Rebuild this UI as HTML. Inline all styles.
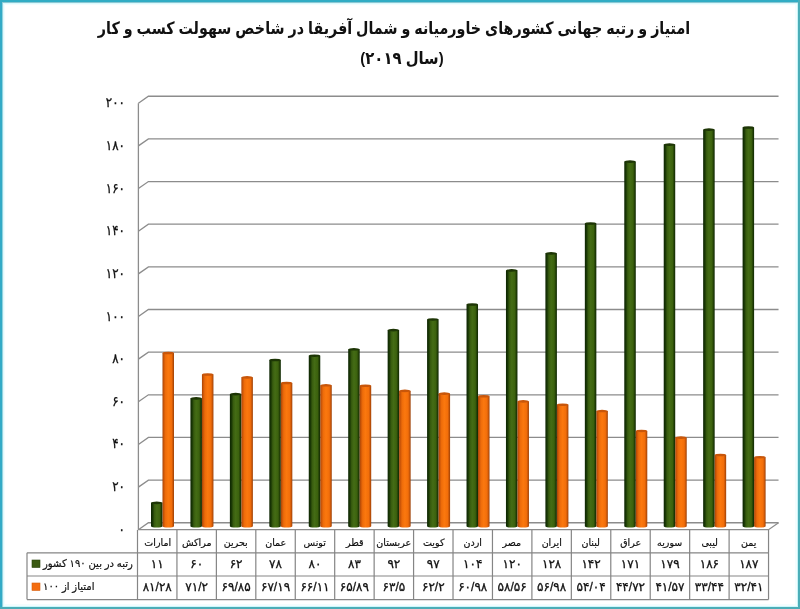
<!DOCTYPE html>
<html lang="fa">
<head>
<meta charset="utf-8">
<title>امتیاز و رتبه جهانی کشورهای خاورمیانه و شمال آفریقا در شاخص سهولت کسب و کار</title>
<style>
html,body{margin:0;padding:0;background:#fff;}
body{width:800px;height:609px;overflow:hidden;position:relative;font-family:"Liberation Sans","DejaVu Sans",sans-serif;color:#111;}
.t{position:absolute;white-space:nowrap;line-height:1;direction:rtl;text-align:center;}
.title{font-weight:bold;font-size:17px;left:0;width:800px;transform:scaleX(0.84);transform-origin:50% 50%;}
.yl{-webkit-text-stroke:0.3px #111;font-size:13.5px;width:40px;text-align:right;direction:ltr;transform:scaleX(0.88);transform-origin:100% 50%;}
.cat{-webkit-text-stroke:0.2px #111;font-size:10px;transform:scaleX(0.95);}
.num{-webkit-text-stroke:0.3px #111;font-size:12px;direction:ltr;transform:scaleX(1.0);}
.leg{-webkit-text-stroke:0.2px #111;font-size:10.5px;text-align:left;transform:scaleX(0.955);transform-origin:0 50%;}

</style>
</head>
<body>
<svg width="800" height="609" viewBox="0 0 800 609" style="position:absolute;left:0;top:0">
<defs>
<linearGradient id="gg" x1="0" x2="1" y1="0" y2="0"><stop offset="0" stop-color="#0c2402"/><stop offset="0.15" stop-color="#1a3805"/><stop offset="0.3" stop-color="#385c0f"/><stop offset="0.5" stop-color="#446c15"/><stop offset="0.76" stop-color="#3c620e"/><stop offset="0.89" stop-color="#234006"/><stop offset="1" stop-color="#0d2602"/></linearGradient>
<linearGradient id="go" x1="0" x2="1" y1="0" y2="0"><stop offset="0" stop-color="#a04206"/><stop offset="0.1" stop-color="#c85408"/><stop offset="0.26" stop-color="#ee6c0a"/><stop offset="0.5" stop-color="#fb780e"/><stop offset="0.78" stop-color="#f26e0a"/><stop offset="0.9" stop-color="#c85608"/><stop offset="1" stop-color="#9a3e05"/></linearGradient>
</defs>
<g shape-rendering="crispEdges">
<rect x="0" y="0" width="800" height="609" fill="#fff"/>
<rect x="3" y="3" width="794" height="603" fill="none" stroke="#f3fdfe" stroke-width="4"/>
<rect x="3" y="0" width="1" height="609" fill="#e0f8fc"/><rect x="0" y="3" width="800" height="1" fill="#dcfbfe"/>
<rect x="797" y="0" width="1" height="609" fill="#c8f2f6"/><rect x="0" y="606" width="800" height="1" fill="#ccf8fc"/>
<rect x="2" y="0" width="1" height="609" fill="#92d2de"/><rect x="0" y="2" width="800" height="1" fill="#8cc8d4"/>
<rect x="0" y="0" width="2" height="609" fill="#32aac6"/><rect x="0" y="0" width="800" height="2" fill="#30acc4"/>
<rect x="798" y="0" width="2" height="609" fill="#4aaeb8"/><rect x="0" y="607" width="800" height="2" fill="#4cacb6"/>
</g>
<path d="M138.40 529.75L148.40 522.75H778.54M138.40 487.10L148.40 480.10H778.54M138.40 444.45L148.40 437.45H778.54M138.40 401.80L148.40 394.80H778.54M138.40 359.15L148.40 352.15H778.54M138.40 316.50L148.40 309.50H778.54M138.40 273.85L148.40 266.85H778.54M138.40 231.20L148.40 224.20H778.54M138.40 188.55L148.40 181.55H778.54M138.40 145.90L148.40 138.90H778.54M138.40 103.25L148.40 96.25H778.54" fill="none" stroke="#8c8c8c" stroke-width="1.3"/>
<path d="M138.40 103.25V530.00" fill="none" stroke="#8c8c8c" stroke-width="1.3"/>
<path d="M138.40 529.70H768.54L778.54 522.75" fill="none" stroke="#8c8c8c" stroke-width="1.3"/>
<path d="M151.00 502.84V526.30A5.75 1.3 0 0 0 162.50 526.30V502.84Z" fill="url(#gg)"/>
<ellipse cx="156.75" cy="502.84" rx="5.75" ry="1.3" fill="#1d3505"/>
<path d="M162.50 352.97V526.30A5.75 1.3 0 0 0 174.00 526.30V352.97Z" fill="url(#go)"/>
<ellipse cx="168.25" cy="352.97" rx="5.75" ry="1.3" fill="#c8560a"/>
<path d="M190.44 398.35V526.30A5.75 1.3 0 0 0 201.94 526.30V398.35Z" fill="url(#gg)"/>
<ellipse cx="196.19" cy="398.35" rx="5.75" ry="1.3" fill="#1d3505"/>
<path d="M201.94 374.47V526.30A5.75 1.3 0 0 0 213.44 526.30V374.47Z" fill="url(#go)"/>
<ellipse cx="207.69" cy="374.47" rx="5.75" ry="1.3" fill="#c8560a"/>
<path d="M229.88 394.08V526.30A5.75 1.3 0 0 0 241.38 526.30V394.08Z" fill="url(#gg)"/>
<ellipse cx="235.63" cy="394.08" rx="5.75" ry="1.3" fill="#1d3505"/>
<path d="M241.38 377.34V526.30A5.75 1.3 0 0 0 252.88 526.30V377.34Z" fill="url(#go)"/>
<ellipse cx="247.13" cy="377.34" rx="5.75" ry="1.3" fill="#c8560a"/>
<path d="M269.32 359.96V526.30A5.75 1.3 0 0 0 280.82 526.30V359.96Z" fill="url(#gg)"/>
<ellipse cx="275.07" cy="359.96" rx="5.75" ry="1.3" fill="#1d3505"/>
<path d="M280.82 383.02V526.30A5.75 1.3 0 0 0 292.32 526.30V383.02Z" fill="url(#go)"/>
<ellipse cx="286.57" cy="383.02" rx="5.75" ry="1.3" fill="#c8560a"/>
<path d="M308.76 355.70V526.30A5.75 1.3 0 0 0 320.26 526.30V355.70Z" fill="url(#gg)"/>
<ellipse cx="314.51" cy="355.70" rx="5.75" ry="1.3" fill="#1d3505"/>
<path d="M320.26 385.32V526.30A5.75 1.3 0 0 0 331.76 526.30V385.32Z" fill="url(#go)"/>
<ellipse cx="326.01" cy="385.32" rx="5.75" ry="1.3" fill="#c8560a"/>
<path d="M348.20 349.30V526.30A5.75 1.3 0 0 0 359.70 526.30V349.30Z" fill="url(#gg)"/>
<ellipse cx="353.95" cy="349.30" rx="5.75" ry="1.3" fill="#1d3505"/>
<path d="M359.70 385.79V526.30A5.75 1.3 0 0 0 371.20 526.30V385.79Z" fill="url(#go)"/>
<ellipse cx="365.45" cy="385.79" rx="5.75" ry="1.3" fill="#c8560a"/>
<path d="M387.64 330.11V526.30A5.75 1.3 0 0 0 399.14 526.30V330.11Z" fill="url(#gg)"/>
<ellipse cx="393.39" cy="330.11" rx="5.75" ry="1.3" fill="#1d3505"/>
<path d="M399.14 390.89V526.30A5.75 1.3 0 0 0 410.64 526.30V390.89Z" fill="url(#go)"/>
<ellipse cx="404.89" cy="390.89" rx="5.75" ry="1.3" fill="#c8560a"/>
<path d="M427.08 319.45V526.30A5.75 1.3 0 0 0 438.58 526.30V319.45Z" fill="url(#gg)"/>
<ellipse cx="432.83" cy="319.45" rx="5.75" ry="1.3" fill="#1d3505"/>
<path d="M438.58 393.66V526.30A5.75 1.3 0 0 0 450.08 526.30V393.66Z" fill="url(#go)"/>
<ellipse cx="444.33" cy="393.66" rx="5.75" ry="1.3" fill="#c8560a"/>
<path d="M466.52 304.52V526.30A5.75 1.3 0 0 0 478.02 526.30V304.52Z" fill="url(#gg)"/>
<ellipse cx="472.27" cy="304.52" rx="5.75" ry="1.3" fill="#1d3505"/>
<path d="M478.02 396.26V526.30A5.75 1.3 0 0 0 489.52 526.30V396.26Z" fill="url(#go)"/>
<ellipse cx="483.77" cy="396.26" rx="5.75" ry="1.3" fill="#c8560a"/>
<path d="M505.96 270.40V526.30A5.75 1.3 0 0 0 517.46 526.30V270.40Z" fill="url(#gg)"/>
<ellipse cx="511.71" cy="270.40" rx="5.75" ry="1.3" fill="#1d3505"/>
<path d="M517.46 401.42V526.30A5.75 1.3 0 0 0 528.96 526.30V401.42Z" fill="url(#go)"/>
<ellipse cx="523.21" cy="401.42" rx="5.75" ry="1.3" fill="#c8560a"/>
<path d="M545.40 253.34V526.30A5.75 1.3 0 0 0 556.90 526.30V253.34Z" fill="url(#gg)"/>
<ellipse cx="551.15" cy="253.34" rx="5.75" ry="1.3" fill="#1d3505"/>
<path d="M556.90 404.79V526.30A5.75 1.3 0 0 0 568.40 526.30V404.79Z" fill="url(#go)"/>
<ellipse cx="562.65" cy="404.79" rx="5.75" ry="1.3" fill="#c8560a"/>
<path d="M584.84 223.48V526.30A5.75 1.3 0 0 0 596.34 526.30V223.48Z" fill="url(#gg)"/>
<ellipse cx="590.59" cy="223.48" rx="5.75" ry="1.3" fill="#1d3505"/>
<path d="M596.34 411.06V526.30A5.75 1.3 0 0 0 607.84 526.30V411.06Z" fill="url(#go)"/>
<ellipse cx="602.09" cy="411.06" rx="5.75" ry="1.3" fill="#c8560a"/>
<path d="M624.28 161.64V526.30A5.75 1.3 0 0 0 635.78 526.30V161.64Z" fill="url(#gg)"/>
<ellipse cx="630.03" cy="161.64" rx="5.75" ry="1.3" fill="#1d3505"/>
<path d="M635.78 430.93V526.30A5.75 1.3 0 0 0 647.28 526.30V430.93Z" fill="url(#go)"/>
<ellipse cx="641.53" cy="430.93" rx="5.75" ry="1.3" fill="#c8560a"/>
<path d="M663.72 144.58V526.30A5.75 1.3 0 0 0 675.22 526.30V144.58Z" fill="url(#gg)"/>
<ellipse cx="669.47" cy="144.58" rx="5.75" ry="1.3" fill="#1d3505"/>
<path d="M675.22 437.65V526.30A5.75 1.3 0 0 0 686.72 526.30V437.65Z" fill="url(#go)"/>
<ellipse cx="680.97" cy="437.65" rx="5.75" ry="1.3" fill="#c8560a"/>
<path d="M703.16 129.65V526.30A5.75 1.3 0 0 0 714.66 526.30V129.65Z" fill="url(#gg)"/>
<ellipse cx="708.91" cy="129.65" rx="5.75" ry="1.3" fill="#1d3505"/>
<path d="M714.66 454.99V526.30A5.75 1.3 0 0 0 726.16 526.30V454.99Z" fill="url(#go)"/>
<ellipse cx="720.41" cy="454.99" rx="5.75" ry="1.3" fill="#c8560a"/>
<path d="M742.60 127.52V526.30A5.75 1.3 0 0 0 754.10 526.30V127.52Z" fill="url(#gg)"/>
<ellipse cx="748.35" cy="127.52" rx="5.75" ry="1.3" fill="#1d3505"/>
<path d="M754.10 457.19V526.30A5.75 1.3 0 0 0 765.60 526.30V457.19Z" fill="url(#go)"/>
<ellipse cx="759.85" cy="457.19" rx="5.75" ry="1.3" fill="#c8560a"/>
<path d="M27.0 552.8H768.54M27.0 576.0H768.54M27.0 599.6H768.54M27.0 552.8V599.6M137.50 530.0V599.6M176.94 530.0V599.6M216.38 530.0V599.6M255.82 530.0V599.6M295.26 530.0V599.6M334.70 530.0V599.6M374.14 530.0V599.6M413.58 530.0V599.6M453.02 530.0V599.6M492.46 530.0V599.6M531.90 530.0V599.6M571.34 530.0V599.6M610.78 530.0V599.6M650.22 530.0V599.6M689.66 530.0V599.6M729.10 530.0V599.6M768.54 530.0V599.6" fill="none" stroke="#858585" stroke-width="1.2"/>
<rect x="32" y="560" width="8" height="7.5" fill="#3b5a12" stroke="#2a430a" stroke-width="0.6"/>
<rect x="32" y="583" width="8" height="7.5" fill="#f46d10" stroke="#d8600e" stroke-width="0.6"/>
</svg>
<div class="t title" style="top:20px;left:-6.5px">امتیاز و رتبه جهانی کشورهای خاورمیانه و شمال آفریقا در شاخص سهولت کسب و کار</div>
<div class="t title" style="top:50px;left:2px;transform:scaleX(0.873)">(سال ۲۰۱۹)</div>
<div class="t yl" style="left:84.5px;top:522.75px">۰</div>
<div class="t yl" style="left:84.5px;top:480.10px">۲۰</div>
<div class="t yl" style="left:84.5px;top:437.45px">۴۰</div>
<div class="t yl" style="left:84.5px;top:394.80px">۶۰</div>
<div class="t yl" style="left:84.5px;top:352.15px">۸۰</div>
<div class="t yl" style="left:84.5px;top:309.50px">۱۰۰</div>
<div class="t yl" style="left:84.5px;top:266.85px">۱۲۰</div>
<div class="t yl" style="left:84.5px;top:224.20px">۱۴۰</div>
<div class="t yl" style="left:84.5px;top:181.55px">۱۶۰</div>
<div class="t yl" style="left:84.5px;top:138.90px">۱۸۰</div>
<div class="t yl" style="left:84.5px;top:96.25px">۲۰۰</div>
<div class="t cat" style="left:137.50px;width:39.44px;top:537.5px">امارات</div>
<div class="t num" style="left:137.50px;width:39.44px;top:558px">۱۱</div>
<div class="t num" style="left:137.50px;width:39.44px;top:581px">۸۱/۲۸</div>
<div class="t cat" style="left:176.94px;width:39.44px;top:537.5px">مراکش</div>
<div class="t num" style="left:176.94px;width:39.44px;top:558px">۶۰</div>
<div class="t num" style="left:176.94px;width:39.44px;top:581px">۷۱/۲</div>
<div class="t cat" style="left:216.38px;width:39.44px;top:537.5px">بحرین</div>
<div class="t num" style="left:216.38px;width:39.44px;top:558px">۶۲</div>
<div class="t num" style="left:216.38px;width:39.44px;top:581px">۶۹/۸۵</div>
<div class="t cat" style="left:255.82px;width:39.44px;top:537.5px">عمان</div>
<div class="t num" style="left:255.82px;width:39.44px;top:558px">۷۸</div>
<div class="t num" style="left:255.82px;width:39.44px;top:581px">۶۷/۱۹</div>
<div class="t cat" style="left:295.26px;width:39.44px;top:537.5px">تونس</div>
<div class="t num" style="left:295.26px;width:39.44px;top:558px">۸۰</div>
<div class="t num" style="left:295.26px;width:39.44px;top:581px">۶۶/۱۱</div>
<div class="t cat" style="left:334.70px;width:39.44px;top:537.5px">قطر</div>
<div class="t num" style="left:334.70px;width:39.44px;top:558px">۸۳</div>
<div class="t num" style="left:334.70px;width:39.44px;top:581px">۶۵/۸۹</div>
<div class="t cat" style="left:374.14px;width:39.44px;top:537.5px">عربستان</div>
<div class="t num" style="left:374.14px;width:39.44px;top:558px">۹۲</div>
<div class="t num" style="left:374.14px;width:39.44px;top:581px">۶۳/۵</div>
<div class="t cat" style="left:413.58px;width:39.44px;top:537.5px">کویت</div>
<div class="t num" style="left:413.58px;width:39.44px;top:558px">۹۷</div>
<div class="t num" style="left:413.58px;width:39.44px;top:581px">۶۲/۲</div>
<div class="t cat" style="left:453.02px;width:39.44px;top:537.5px">اردن</div>
<div class="t num" style="left:453.02px;width:39.44px;top:558px">۱۰۴</div>
<div class="t num" style="left:453.02px;width:39.44px;top:581px">۶۰/۹۸</div>
<div class="t cat" style="left:492.46px;width:39.44px;top:537.5px">مصر</div>
<div class="t num" style="left:492.46px;width:39.44px;top:558px">۱۲۰</div>
<div class="t num" style="left:492.46px;width:39.44px;top:581px">۵۸/۵۶</div>
<div class="t cat" style="left:531.90px;width:39.44px;top:537.5px">ایران</div>
<div class="t num" style="left:531.90px;width:39.44px;top:558px">۱۲۸</div>
<div class="t num" style="left:531.90px;width:39.44px;top:581px">۵۶/۹۸</div>
<div class="t cat" style="left:571.34px;width:39.44px;top:537.5px">لبنان</div>
<div class="t num" style="left:571.34px;width:39.44px;top:558px">۱۴۲</div>
<div class="t num" style="left:571.34px;width:39.44px;top:581px">۵۴/۰۴</div>
<div class="t cat" style="left:610.78px;width:39.44px;top:537.5px">عراق</div>
<div class="t num" style="left:610.78px;width:39.44px;top:558px">۱۷۱</div>
<div class="t num" style="left:610.78px;width:39.44px;top:581px">۴۴/۷۲</div>
<div class="t cat" style="left:650.22px;width:39.44px;top:537.5px">سوریه</div>
<div class="t num" style="left:650.22px;width:39.44px;top:558px">۱۷۹</div>
<div class="t num" style="left:650.22px;width:39.44px;top:581px">۴۱/۵۷</div>
<div class="t cat" style="left:689.66px;width:39.44px;top:537.5px">لیبی</div>
<div class="t num" style="left:689.66px;width:39.44px;top:558px">۱۸۶</div>
<div class="t num" style="left:689.66px;width:39.44px;top:581px">۳۳/۴۴</div>
<div class="t cat" style="left:729.10px;width:39.44px;top:537.5px">یمن</div>
<div class="t num" style="left:729.10px;width:39.44px;top:558px">۱۸۷</div>
<div class="t num" style="left:729.10px;width:39.44px;top:581px">۳۲/۴۱</div>
<div class="t leg" style="left:43px;top:558px">رتبه در بین ۱۹۰ کشور</div>
<div class="t leg" style="left:43px;top:581px">امتیاز از ۱۰۰</div>
</body>
</html>
